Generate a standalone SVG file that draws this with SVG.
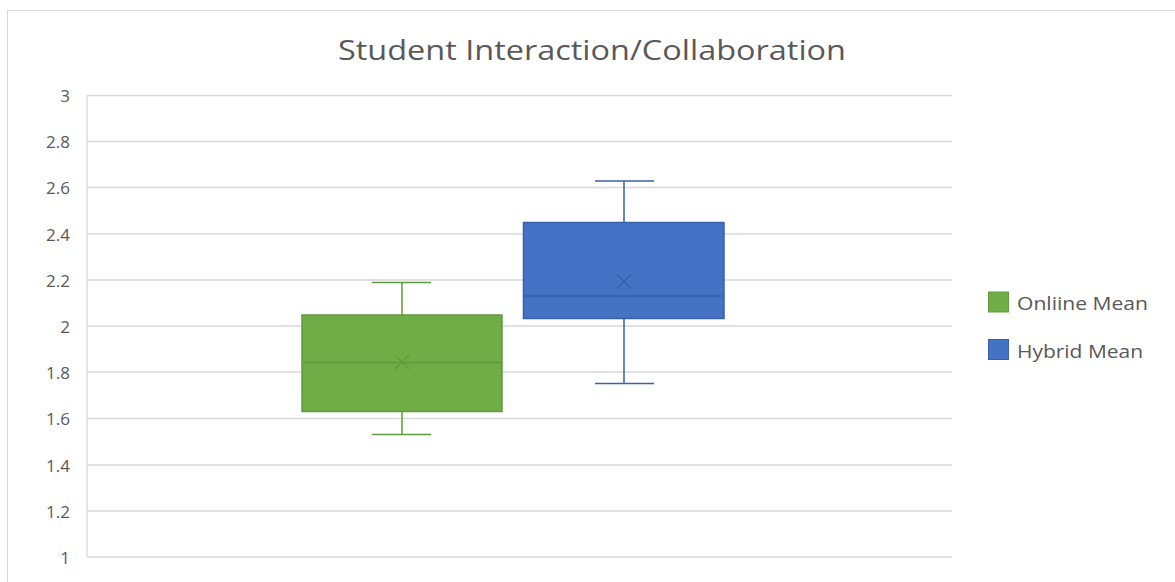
<svg xmlns="http://www.w3.org/2000/svg" width="1175" height="582" viewBox="0 0 1175 582">
<style>
.grid{stroke:#d9d9d9;stroke-width:1.3;fill:none}
.ax{font-family:"Open Sans","Liberation Sans",sans-serif;font-size:17px;fill:#595959;text-anchor:end}
.title{font-family:"Open Sans","Liberation Sans",sans-serif;font-size:28px;fill:#595959}
.leg{font-family:"Open Sans","Liberation Sans",sans-serif;font-size:18px;fill:#595959}
.gbox{fill:#70ad47;stroke:#5f9a3b;stroke-width:1.5}
.gln{stroke:#5f9a3b;stroke-width:1.5;fill:none}
.bbox{fill:#4472c4;stroke:#3861aa;stroke-width:1.5}
.bln{stroke:#3861aa;stroke-width:1.5;fill:none}
</style>
<rect x="0" y="0" width="1175" height="582" fill="#ffffff"/>
<rect x="7.5" y="10.5" width="1180" height="590" fill="none" stroke="#d9d9d9" stroke-width="1"/>
<text class="title" x="338" y="60" textLength="508" lengthAdjust="spacingAndGlyphs">Student Interaction/Collaboration</text>
<g id="gridlines">
<line class="grid" x1="87" y1="95.5" x2="952" y2="95.5"/>
<line class="grid" x1="87" y1="141.5" x2="952" y2="141.5"/>
<line class="grid" x1="87" y1="187.5" x2="952" y2="187.5"/>
<line class="grid" x1="87" y1="234" x2="952" y2="234"/>
<line class="grid" x1="87" y1="280" x2="952" y2="280"/>
<line class="grid" x1="87" y1="326" x2="952" y2="326"/>
<line class="grid" x1="87" y1="372" x2="952" y2="372"/>
<line class="grid" x1="87" y1="418.5" x2="952" y2="418.5"/>
<line class="grid" x1="87" y1="465" x2="952" y2="465"/>
<line class="grid" x1="87" y1="511" x2="952" y2="511"/>
<line class="grid" x1="87" y1="557" x2="952" y2="557"/>
<line class="grid" x1="87" y1="95.5" x2="87" y2="557"/>
</g>
<g id="yaxis">
<text class="ax" x="70" y="102">3</text>
<text class="ax" x="70" y="148">2.8</text>
<text class="ax" x="70" y="194">2.6</text>
<text class="ax" x="70" y="240.5">2.4</text>
<text class="ax" x="70" y="286.5">2.2</text>
<text class="ax" x="70" y="332.5">2</text>
<text class="ax" x="70" y="378.5">1.8</text>
<text class="ax" x="70" y="425">1.6</text>
<text class="ax" x="70" y="471.5">1.4</text>
<text class="ax" x="70" y="517.5">1.2</text>
<text class="ax" x="70" y="563.5">1</text>
</g>
<g id="online">
<line class="gln" x1="402" y1="282.5" x2="402" y2="315"/>
<line class="gln" x1="372" y1="282.5" x2="431" y2="282.5"/>
<line class="gln" x1="402" y1="411.5" x2="402" y2="434.5"/>
<line class="gln" x1="372" y1="434.5" x2="431" y2="434.5"/>
<rect class="gbox" x="302" y="315" width="200" height="96.5"/>
<line class="gln" x1="302" y1="362.5" x2="502" y2="362.5"/>
<path class="gln" d="M395 355 L409 369 M409 355 L395 369"/>
</g>
<g id="hybrid">
<line class="bln" x1="624" y1="181" x2="624" y2="222.5"/>
<line class="bln" x1="595" y1="181" x2="654" y2="181"/>
<line class="bln" x1="624" y1="318.5" x2="624" y2="383.5"/>
<line class="bln" x1="595" y1="383.5" x2="654" y2="383.5"/>
<rect class="bbox" x="523.5" y="222.5" width="200.5" height="96"/>
<line class="bln" x1="523.5" y1="296" x2="724" y2="296"/>
<path class="bln" d="M617 274.5 L631 288.5 M631 274.5 L617 288.5"/>
</g>
<g id="legend">
<rect x="988.5" y="292" width="20" height="20" fill="#70ad47" stroke="#5f9a3b" stroke-width="1"/>
<text class="leg" x="1017" y="310" textLength="131" lengthAdjust="spacingAndGlyphs">Onliine Mean</text>
<rect x="988.5" y="339.5" width="20" height="20" fill="#4472c4" stroke="#3861aa" stroke-width="1"/>
<text class="leg" x="1017" y="358" textLength="126" lengthAdjust="spacingAndGlyphs">Hybrid Mean</text>
</g>
</svg>
